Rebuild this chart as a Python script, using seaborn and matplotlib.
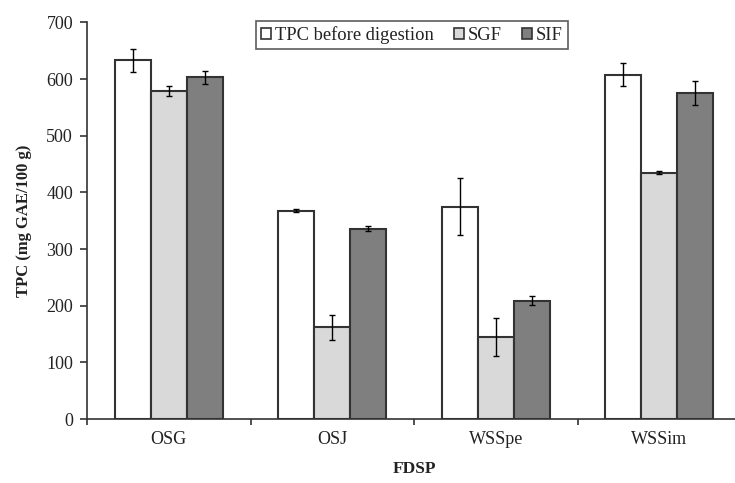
import numpy as np
import pandas as pd
import seaborn as sns
import matplotlib.pyplot as plt
from matplotlib.patches import Patch

# values
samples = ['OSG', 'OSJ', 'WSSpe', 'WSSim']
stages = ['TPC before digestion', 'SGF', 'SIF']
tpc_before = [633, 368, 375, 608]
tpc_before_err = [20, 3, 50, 20]
tpc_sgf = [579, 162, 145, 435]
tpc_sgf_err = [9, 22, 33, 3]
tpc_sif = [603, 336, 209, 576]
tpc_sif_err = [12, 4, 8, 21]

df = pd.DataFrame({
    'FDSP': samples * 3,
    'stage': np.repeat(stages, len(samples)),
    'TPC': tpc_before + tpc_sgf + tpc_sif,
    'err': tpc_before_err + tpc_sgf_err + tpc_sif_err,
})

sns.set_style('white')
plt.rcParams['font.family'] = ['Liberation Serif', 'DejaVu Serif']
text_col = '#222222'
palette = {'TPC before digestion': '#ffffff', 'SGF': '#d9d9d9', 'SIF': '#7f7f7f'}

fig = plt.figure(figsize=(7.35, 4.83), dpi=100)
ax = fig.add_axes([87 / 735, 64 / 483, 654 / 735, 396.5 / 483])

sns.barplot(
    data=df, x='FDSP', y='TPC', hue='stage', order=samples, hue_order=stages,
    palette=palette, width=0.66, edgecolor='#333333', linewidth=1.5,
    errorbar=None, legend=False, ax=ax,
)

# error bars placed on the bar centres seaborn produced
for container, stage in zip(ax.containers, stages):
    sub = df[df['stage'] == stage].set_index('FDSP').loc[samples]
    xs = [p.get_x() + p.get_width() / 2 for p in container.patches]
    ax.errorbar(xs, sub['TPC'], yerr=sub['err'], fmt='none', ecolor='black',
                elinewidth=1, capsize=2, capthick=1)

ax.set_ylim(0, 700)
ax.set_xlim(-0.5, 3.5)
ax.set_yticks(range(0, 701, 100))
ax.set_xticks(range(len(samples)))
ax.set_xticklabels(samples)
ax.set_xticks([-0.5, 0.5, 1.5, 2.5], minor=True)
ax.tick_params(axis='x', which='major', bottom=True, length=0, pad=9, labelsize=13, colors=text_col)
ax.tick_params(axis='x', which='minor', bottom=True, length=4, width=1.2, direction='out', color='#333333')
ax.tick_params(axis='y', left=True, length=5, width=1.2, direction='out', color='#333333',
               labelsize=13, labelcolor=text_col, pad=5)

for side in ['top', 'right']:
    ax.spines[side].set_visible(False)
for side in ['left', 'bottom']:
    ax.spines[side].set_color('#333333')
    ax.spines[side].set_linewidth(1.2)

ax.set_ylabel('TPC (mg GAE/100 g)', fontsize=12, fontweight='bold', color=text_col, labelpad=10)
ax.set_xlabel('FDSP', fontsize=12.5, fontweight='bold', color=text_col, labelpad=9)

handles = [Patch(facecolor=palette[s], edgecolor='#333333', linewidth=1.2, label=s) for s in stages]
leg = fig.legend(handles=handles, loc='center', bbox_to_anchor=(412 / 735, 1 - 35 / 483),
                 ncol=3, fontsize=13.3, frameon=True, fancybox=False, handlelength=0.55,
                 handleheight=0.55, handletextpad=0.2, columnspacing=1.1,
                 borderpad=0.25, edgecolor='#333333')
leg.get_frame().set_linewidth(1.2)
for t in leg.get_texts():
    t.set_color(text_col)

fig.savefig('out.png', dpi=100)
